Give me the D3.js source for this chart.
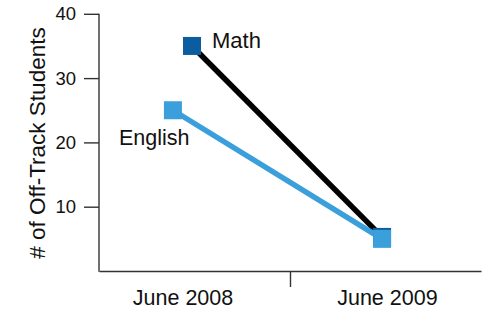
<!DOCTYPE html>
<html><head><meta charset="utf-8">
<script src="https://cdn.jsdelivr.net/npm/d3@7"></script>
<style>body{margin:0;background:#fff}svg{display:block}text{font-family:"Liberation Sans",Arial,sans-serif;fill:#111}</style>
</head><body><svg id="c" width="490" height="311"></svg>
<script>
const categories = ["June 2008", "June 2009"];
const categoryPos = [0.44, 1.51];
const seriesNames = ["Math", "English"];
const mathX = [0.487, 1.482];
const mathValues = [35, 5.3];
const englishX = [0.387, 1.482];
const englishValues = [25, 5];
const yTicks = [10, 20, 30, 40];
const yTitle = "# of Off-Track Students";

const svg = d3.select("#c");
const x = d3.scaleLinear().domain([0, 2]).range([99, 481]);
const y = d3.scaleLinear().domain([0, 40]).range([271, 13.8]);
const axisColor = "#333";

// y axis
const ya = svg.append("g").attr("transform", "translate(99,0)")
  .call(d3.axisLeft(y).tickValues(yTicks).tickSize(15).tickPadding(8).tickSizeOuter(0));
ya.select(".domain").remove();
ya.selectAll(".tick line").attr("stroke", axisColor).attr("stroke-width", 1.4);
ya.selectAll(".tick text").attr("font-size", 18.5).attr("fill", "#111")
  .attr("font-family", "Liberation Sans, Arial, sans-serif");
svg.append("line").attr("x1", 99).attr("x2", 99).attr("y1", y(40)).attr("y2", y(0) + 0.7)
  .attr("stroke", axisColor).attr("stroke-width", 1.4);

// x axis
const xa = svg.append("g").attr("transform", `translate(0,${y(0)})`)
  .call(d3.axisBottom(x).tickValues([1]).tickFormat("").tickSize(16).tickSizeOuter(0));
xa.select(".domain").attr("stroke", axisColor).attr("stroke-width", 1.4);
xa.selectAll(".tick line").attr("stroke", axisColor).attr("stroke-width", 1.4);
svg.append("g").selectAll("text").data(categories).join("text")
  .attr("x", (d, i) => x(categoryPos[i])).attr("y", 305)
  .attr("text-anchor", "middle").attr("font-size", 21.5).text(d => d);

// y title
svg.append("text").attr("transform", "translate(45,143) rotate(-90)")
  .attr("text-anchor", "middle").attr("font-size", 22.5).text(yTitle);

const line = d3.line().x(d => x(d[0])).y(d => y(d[1]));
const mathPts = mathX.map((v, i) => [v, mathValues[i]]);
const engPts = englishX.map((v, i) => [v, englishValues[i]]);

svg.append("path").datum(mathPts).attr("d", line).attr("fill", "none")
  .attr("stroke", "#000").attr("stroke-width", 5.5);
svg.append("path").datum(engPts).attr("d", line).attr("fill", "none")
  .attr("stroke", "#3a9fdb").attr("stroke-width", 5.5);

const sq = 18;
svg.append("g").selectAll("rect").data(mathPts).join("rect")
  .attr("x", d => x(d[0]) - sq / 2).attr("y", d => y(d[1]) - sq / 2)
  .attr("width", sq).attr("height", sq).attr("fill", "#0b5d9f");
svg.append("g").selectAll("rect").data(engPts).join("rect")
  .attr("x", d => x(d[0]) - sq / 2).attr("y", d => y(d[1]) - sq / 2)
  .attr("width", sq).attr("height", sq).attr("fill", "#3a9fdb");

// series labels
svg.append("text").attr("x", 212).attr("y", 48).attr("font-size", 22).text(seriesNames[0]);
svg.append("text").attr("x", 119).attr("y", 145).attr("font-size", 21.5).text(seriesNames[1]);
</script></body></html>
